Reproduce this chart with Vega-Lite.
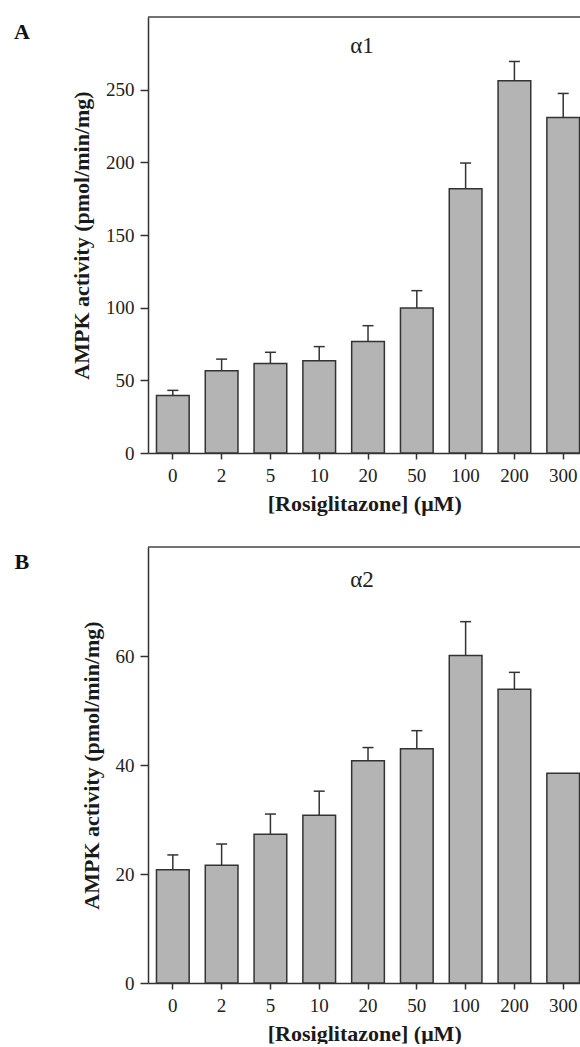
{
  "$schema": "https://vega.github.io/schema/vega-lite/v6.json",
  "padding": {"left": 13, "top": 16, "right": 0, "bottom": 0},
  "spacing": 32,
  "config": {
    "font": "Liberation Serif",
    "view": {"stroke": null},
    "axis": {
      "grid": false,
      "domainColor": "#333333",
      "domainWidth": 1.5,
      "tickColor": "#333333",
      "tickWidth": 1.5,
      "labelFont": "Liberation Serif",
      "labelFontSize": 19,
      "labelColor": "#222222",
      "titleFont": "Liberation Serif",
      "titleFontSize": 22,
      "titleFontWeight": "bold",
      "titleColor": "#1a1a1a"
    },
    "axisX": {"tickSize": 6, "labelPadding": 7, "labelAngle": 0, "titlePadding": 8},
    "axisY": {"tickSize": 8, "labelPadding": 6, "titlePadding": 12}
  },
  "datasets": {
    "a1": [
      {"conc": "0", "activity": 39.5, "errTop": 43.1},
      {"conc": "2", "activity": 56.6, "errTop": 64.6},
      {"conc": "5", "activity": 61.5, "errTop": 69.3},
      {"conc": "10", "activity": 63.5, "errTop": 73.2},
      {"conc": "20", "activity": 76.8, "errTop": 87.6},
      {"conc": "50", "activity": 99.7, "errTop": 111.7},
      {"conc": "100", "activity": 181.8, "errTop": 199.5},
      {"conc": "200", "activity": 256.1, "errTop": 269.4},
      {"conc": "300", "activity": 230.9, "errTop": 247.4}
    ],
    "a2": [
      {"conc": "0", "activity": 20.8, "errTop": 23.5},
      {"conc": "2", "activity": 21.6, "errTop": 25.5},
      {"conc": "5", "activity": 27.3, "errTop": 31.0},
      {"conc": "10", "activity": 30.8, "errTop": 35.2},
      {"conc": "20", "activity": 40.8, "errTop": 43.2},
      {"conc": "50", "activity": 43.0, "errTop": 46.3},
      {"conc": "100", "activity": 60.1, "errTop": 66.3},
      {"conc": "200", "activity": 53.9, "errTop": 57.0},
      {"conc": "300", "activity": 38.5, "errTop": null}
    ]
  },
  "vconcat": [
    {
      "width": 432.5,
      "height": 436,
      "layer": [
        {
          "data": {"name": "a1"},
          "mark": {"type": "bar", "fill": "#b4b4b4", "stroke": "#333333", "strokeWidth": 1.5},
          "encoding": {
            "x": {"field": "conc", "type": "nominal", "scale": {"domain": ["0","2","5","10","20","50","100","200","300"], "paddingInner": 0.33, "paddingOuter": 0.0965, "align": 0.9}, "axis": {"title": "[Rosiglitazone] (μM)"}},
            "y": {"field": "activity", "type": "quantitative", "scale": {"domain": [0, 300], "nice": false}, "axis": {"values": [0, 50, 100, 150, 200, 250], "title": "AMPK activity (pmol/min/mg)"}}
          }
        },
        {
          "data": {"name": "a1"},
          "transform": [{"filter": "isValid(datum.errTop)"}],
          "mark": {"type": "rule", "color": "#333333", "strokeWidth": 1.5},
          "encoding": {
            "x": {"field": "conc", "type": "nominal"},
            "y": {"field": "activity", "type": "quantitative"},
            "y2": {"field": "errTop"}
          }
        },
        {
          "data": {"name": "a1"},
          "transform": [{"filter": "isValid(datum.errTop)"}],
          "mark": {"type": "tick", "color": "#333333", "thickness": 1.5, "size": 11, "opacity": 1},
          "encoding": {
            "x": {"field": "conc", "type": "nominal"},
            "y": {"field": "errTop", "type": "quantitative"}
          }
        },
        {
          "data": {"values": [{}]},
          "mark": {"type": "rule", "color": "#444444", "strokeWidth": 1.5},
          "encoding": {"y": {"datum": 300}}
        },
        {
          "data": {"values": [{}]},
          "mark": {"type": "text", "text": "α1", "fontSize": 23, "dx": -6, "baseline": "middle", "font": "Liberation Serif", "color": "#222222"},
          "encoding": {"x": {"datum": "20"}, "y": {"datum": 280}}
        },
        {
          "data": {"values": [{}]},
          "mark": {"type": "text", "text": "A", "fontSize": 22, "fontWeight": "bold", "dx": -151, "dy": 15, "align": "center", "baseline": "middle", "font": "Liberation Serif", "color": "#111111"},
          "encoding": {"x": {"datum": "0"}, "y": {"datum": 300}}
        }
      ]
    },
    {
      "width": 432.5,
      "height": 436,
      "layer": [
        {
          "data": {"name": "a2"},
          "mark": {"type": "bar", "fill": "#b4b4b4", "stroke": "#333333", "strokeWidth": 1.5},
          "encoding": {
            "x": {"field": "conc", "type": "nominal", "scale": {"domain": ["0","2","5","10","20","50","100","200","300"], "paddingInner": 0.33, "paddingOuter": 0.0965, "align": 0.9}, "axis": {"title": "[Rosiglitazone] (μM)"}},
            "y": {"field": "activity", "type": "quantitative", "scale": {"domain": [0, 80], "nice": false}, "axis": {"values": [0, 20, 40, 60], "title": "AMPK activity (pmol/min/mg)"}}
          }
        },
        {
          "data": {"name": "a2"},
          "transform": [{"filter": "isValid(datum.errTop)"}],
          "mark": {"type": "rule", "color": "#333333", "strokeWidth": 1.5},
          "encoding": {
            "x": {"field": "conc", "type": "nominal"},
            "y": {"field": "activity", "type": "quantitative"},
            "y2": {"field": "errTop"}
          }
        },
        {
          "data": {"name": "a2"},
          "transform": [{"filter": "isValid(datum.errTop)"}],
          "mark": {"type": "tick", "color": "#333333", "thickness": 1.5, "size": 11, "opacity": 1},
          "encoding": {
            "x": {"field": "conc", "type": "nominal"},
            "y": {"field": "errTop", "type": "quantitative"}
          }
        },
        {
          "data": {"values": [{}]},
          "mark": {"type": "rule", "color": "#444444", "strokeWidth": 1.5},
          "encoding": {"y": {"datum": 80}}
        },
        {
          "data": {"values": [{}]},
          "mark": {"type": "text", "text": "α2", "fontSize": 23, "dx": -6, "baseline": "middle", "font": "Liberation Serif", "color": "#222222"},
          "encoding": {"x": {"datum": "20"}, "y": {"datum": 74}}
        },
        {
          "data": {"values": [{}]},
          "mark": {"type": "text", "text": "B", "fontSize": 22, "fontWeight": "bold", "dx": -151, "dy": 15, "align": "center", "baseline": "middle", "font": "Liberation Serif", "color": "#111111"},
          "encoding": {"x": {"datum": "0"}, "y": {"datum": 80}}
        }
      ]
    }
  ]
}
